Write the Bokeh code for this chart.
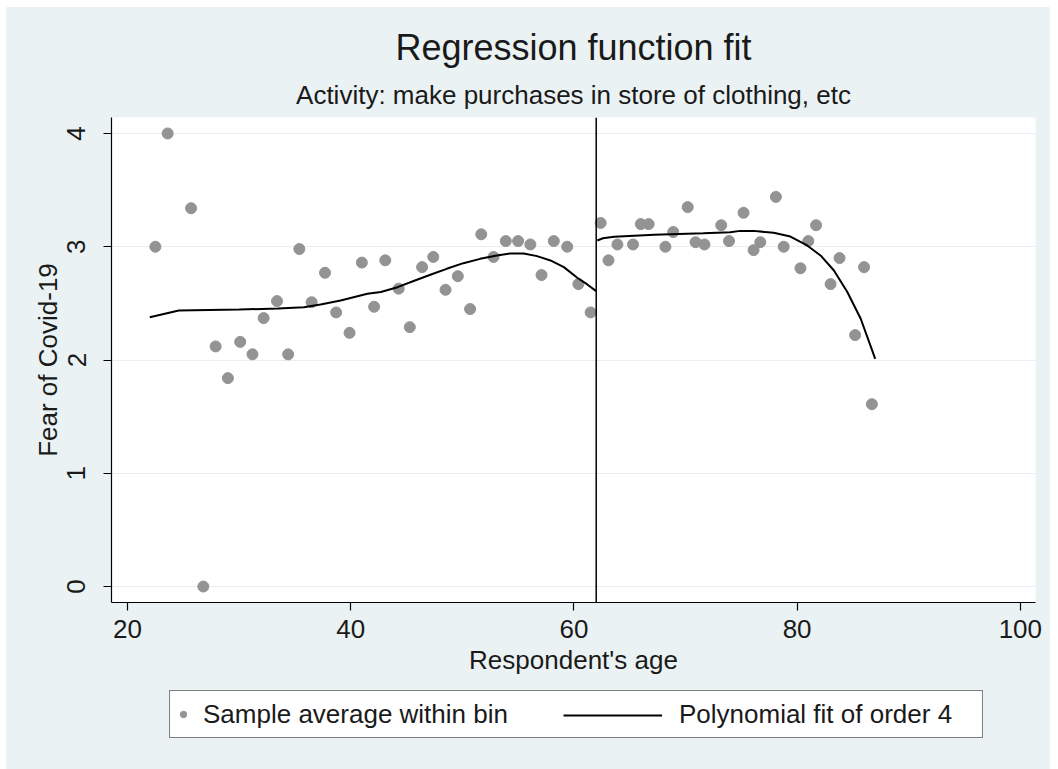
from bokeh.plotting import figure
from bokeh.models import (Range1d, FixedTicker, Title, Legend, LegendItem, Span)
from bokeh.layouts import column
from bokeh.embed import file_html
from bokeh.resources import INLINE

# ---- data ----
bin_age = [22.5, 23.6, 25.7, 26.8, 27.9, 29.0, 30.1, 31.2, 32.2, 33.4, 34.4, 35.4,
           36.5, 37.7, 38.7, 39.9, 41.0, 42.1, 43.1, 44.3, 45.3, 46.4, 47.4, 48.5,
           49.6, 50.7, 51.7, 52.8, 53.9, 55.0, 56.1, 57.1, 58.2, 59.4, 60.4, 61.5,
           62.4, 63.1, 63.9, 65.3, 66.0, 66.7, 68.2, 68.9, 70.2, 70.9, 71.7, 73.2,
           73.9, 75.2, 76.1, 76.7, 78.1, 78.8, 80.3, 81.0, 81.7, 83.0, 83.8, 85.2,
           86.0, 86.7]
bin_fear = [3.00, 4.00, 3.34, 0.00, 2.12, 1.84, 2.16, 2.05, 2.37, 2.52, 2.05, 2.98,
            2.51, 2.77, 2.42, 2.24, 2.86, 2.47, 2.88, 2.63, 2.29, 2.82, 2.91, 2.62,
            2.74, 2.45, 3.11, 2.91, 3.05, 3.05, 3.02, 2.75, 3.05, 3.00, 2.67, 2.42,
            3.21, 2.88, 3.02, 3.02, 3.20, 3.20, 3.00, 3.13, 3.35, 3.04, 3.02, 3.19,
            3.05, 3.30, 2.97, 3.04, 3.44, 3.00, 2.81, 3.05, 3.19, 2.67, 2.90, 2.22,
            2.82, 1.61]

fit_left_age = [22.0, 24.6, 30.0, 33.5, 35.8, 37.3, 39.1, 41.5, 42.7, 44.2, 45.7,
                47.2, 48.6, 50.1, 51.6, 53.1, 54.3, 55.5, 56.7, 57.9, 59.1, 60.3,
                61.2, 62.0]
fit_left_fear = [2.378, 2.437, 2.445, 2.455, 2.465, 2.49, 2.525, 2.585, 2.60, 2.643,
                 2.70, 2.755, 2.805, 2.855, 2.893, 2.923, 2.94, 2.94, 2.917, 2.879,
                 2.82, 2.726, 2.667, 2.608]
fit_right_age = [62.1, 62.6, 63.6, 67.2, 71.6, 74.0, 74.9, 76.1, 77.9,
                 79.4, 80.9, 82.1, 83.3, 84.5, 85.7, 87.0]
fit_right_fear = [3.055, 3.075, 3.088, 3.105, 3.118, 3.128, 3.140, 3.140, 3.123,
                  3.09, 3.011, 2.923, 2.79, 2.60, 2.364, 2.01]

cutoff = 62.0
x_ticks = [20, 40, 60, 80, 100]
y_ticks = [0, 1, 2, 3, 4]

title_text = "Regression function fit"
subtitle_text = "Activity: make purchases in store of clothing, etc"
x_label = "Respondent's age"
y_label = "Fear of Covid-19"
legend_labels = ["Sample average within bin", "Polynomial fit of order 4"]

FONT = "Liberation Sans"
BG = "#eaf2f3"
TXT = "#1a1a1a"
PT = "#939393"

p = figure(width=1044, height=678, output_backend="svg", toolbar_location=None,
           x_range=Range1d(18.57, 101.36), y_range=Range1d(-0.141, 4.141),
           min_border_left=105, min_border_right=15, min_border_top=110,
           min_border_bottom=83, title=title_text)
p.background_fill_color = "white"
p.border_fill_color = BG
p.outline_line_color = None

# titles
p.title.text_font = FONT
p.title.text_font_size = "36px"
p.title.text_font_style = "normal"
p.title.text_color = TXT
p.title.align = "center"
p.title.standoff = 4
sub_title = Title(text=subtitle_text, align="center", text_font=FONT,
                  text_font_size="26px", text_font_style="normal",
                  text_color=TXT, standoff=16)
p.add_layout(sub_title, "above")

# axes
for ax in (p.xaxis[0], p.yaxis[0]):
    ax.axis_line_color = "black"
    ax.axis_line_width = 1.2
    ax.major_tick_line_color = "black"
    ax.major_tick_line_width = 1.2
    ax.major_tick_out = 8
    ax.major_tick_in = 0
    ax.minor_tick_line_color = None
    ax.major_label_text_font = FONT
    ax.major_label_text_font_size = "26px"
    ax.major_label_text_color = TXT
    ax.axis_label_text_font = FONT
    ax.axis_label_text_font_size = "26px"
    ax.axis_label_text_font_style = "normal"
    ax.axis_label_text_color = TXT

p.xaxis.ticker = FixedTicker(ticks=x_ticks)
p.yaxis.ticker = FixedTicker(ticks=y_ticks)
p.xaxis.axis_label = x_label
p.yaxis.axis_label = y_label
p.xaxis.major_label_standoff = 9
p.xaxis.axis_label_standoff = 4
p.yaxis.major_label_orientation = "vertical"
p.yaxis.major_label_standoff = 18
p.yaxis.axis_label_standoff = 2

p.xgrid.visible = False
p.ygrid.ticker = FixedTicker(ticks=y_ticks)
p.ygrid.grid_line_color = "#e6eef0"
p.ygrid.grid_line_width = 1

# data
p.scatter(bin_age, bin_fear, size=11, fill_color=PT, line_color=PT)
p.line(fit_left_age, fit_left_fear, line_color="black", line_width=2)
p.line(fit_right_age, fit_right_fear, line_color="black", line_width=2)
p.add_layout(Span(location=cutoff, dimension="height", line_color="black", line_width=1.5))

# legend strip below the chart (frame aligned with the chart's frame)
q = figure(width=1044, height=84, output_backend="svg", toolbar_location=None,
           x_range=Range1d(0, 1), y_range=Range1d(0, 1),
           min_border_left=105, min_border_right=15,
           min_border_top=0, min_border_bottom=0)
q.axis.visible = False
q.grid.visible = False
q.outline_line_color = None
q.background_fill_color = BG
q.border_fill_color = BG
sc_key = q.scatter([-5], [-5], size=11, fill_color=PT, line_color=PT)
ln_key = q.line([-5, -4], [-5, -5], line_color="black", line_width=2)
ln_blank = q.line([-5, -4], [-5, -5], line_color="black", line_width=2, line_alpha=0)

leg = Legend(items=[LegendItem(label=legend_labels[0], renderers=[sc_key]),
                    LegendItem(label=legend_labels[1], renderers=[ln_blank])],
             location=(58, 31), orientation="horizontal",
             padding=5, margin=0, spacing=143, glyph_width=16, glyph_height=36,
             label_height=36, label_width=298, label_standoff=12,
             label_text_font=FONT, label_text_font_size="26px", label_text_color=TXT,
             border_line_color="black", border_line_width=1.2,
             background_fill_color="white", background_fill_alpha=1.0)
q.add_layout(leg, "center")
leg2 = Legend(items=[LegendItem(label=" ", renderers=[ln_key])],
              location=(452, 36), orientation="horizontal",
              padding=0, margin=0, spacing=0, glyph_width=99, glyph_height=36,
              label_height=36, label_width=0, label_standoff=0,
              label_text_font=FONT, label_text_font_size="26px",
              border_line_alpha=0, background_fill_alpha=0)
q.add_layout(leg2, "center")

page = column(p, q, spacing=0, margin=(7, 8, 0, 6),
              styles={"background-color": BG})
open("out.html", "w").write(file_html(page, INLINE))
